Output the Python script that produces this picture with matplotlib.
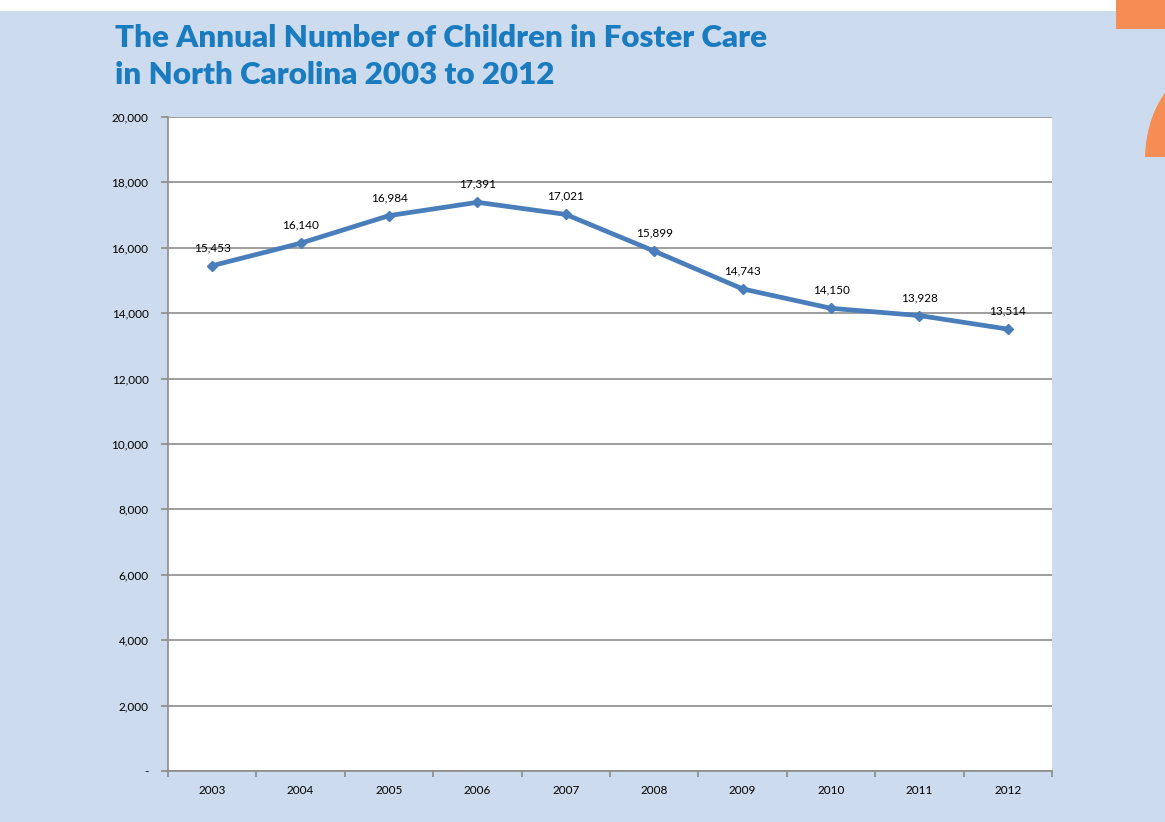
import matplotlib.pyplot as plt
import matplotlib.patches as mpatches
import numpy as np

years = ["2003", "2004", "2005", "2006", "2007", "2008", "2009", "2010", "2011", "2012"]
children = [15453, 16140, 16984, 17391, 17021, 15899, 14743, 14150, 13928, 13514]
ytick_vals = [0, 2000, 4000, 6000, 8000, 10000, 12000, 14000, 16000, 18000, 20000]
ytick_labels = ["-", "2,000", "4,000", "6,000", "8,000", "10,000", "12,000",
                "14,000", "16,000", "18,000", "20,000"]

bg = "#ccdbed"
fig = plt.figure(figsize=(11.65, 8.22), dpi=100, facecolor=bg)

# white strip at top and orange decoration top right
fig.patches.append(mpatches.Rectangle((0, 1 - 11/822), 1, 11/822, transform=fig.transFigure,
                                      facecolor="white", edgecolor="none"))
fig.patches.append(mpatches.Rectangle((1116/1165, 1 - 29/822), 1, 29/822, transform=fig.transFigure,
                                      facecolor="#f58d55", edgecolor="none"))
fig.patches.append(mpatches.Ellipse((1205/1165, 1 - 160/822), 120/1165, 180/822,
                                    transform=fig.transFigure, facecolor="#f58d55",
                                    edgecolor="none"))
fig.patches.append(mpatches.Rectangle((1140/1165, 0), 1, 1 - 157/822, transform=fig.transFigure,
                                      facecolor=bg, edgecolor="none"))

title_font = ["Lato", "DejaVu Sans"]
t1 = fig.text(115/1165, 1 - 38/822, "The Annual Number of Children in Foster Care",
              fontsize=21, fontweight="heavy", color="#1a7cbf", family=title_font, va="center")
t2 = fig.text(115/1165, 1 - 75/822, "in North Carolina 2003 to 2012",
              fontsize=21, fontweight="heavy", color="#1a7cbf", family=title_font, va="center")
# fit title to the reference width
r = fig.canvas.get_renderer()
w = t1.get_window_extent(r).width
scale = 647 / w
t1.set_fontsize(21 * scale)
t2.set_fontsize(21 * scale)

ax = fig.add_axes([168/1165, 1 - 771/822, 884/1165, 654/822])
ax.set_facecolor("white")
x = np.arange(len(years))
ax.plot(x, children, color="#4a7ebb", linewidth=3.4, marker="D", markersize=5, zorder=3)

lab_font = ["Lato", "DejaVu Sans"]
for xi, v in zip(x, children):
    ax.annotate(f"{v:,}", (xi, v), xytext=(0, 9), textcoords="offset points",
                ha="center", va="bottom", fontsize=8.5, family=lab_font)

ax.set_xlim(-0.5, len(years) - 0.5)
ax.set_ylim(0, 20000)
ax.set_yticks(ytick_vals)
ax.set_yticklabels(ytick_labels, fontsize=8.5, family=lab_font)
ax.set_xticks(x)
ax.set_xticklabels(years, fontsize=8.5, family=lab_font)
ax.set_xticks(np.arange(-0.5, len(years), 1), minor=True)
ax.tick_params(axis="x", which="major", length=0, pad=10)
ax.tick_params(axis="x", which="minor", length=4, width=1.2, color="#8c8c8c", direction="out")
ax.tick_params(axis="y", length=5, width=1.2, color="#8c8c8c", direction="out", pad=9)
ax.grid(axis="y", color="#8c8c8c", linewidth=1.2)
ax.set_axisbelow(True)
for s in ["top", "right"]:
    ax.spines[s].set_visible(False)
for s in ["left", "bottom"]:
    ax.spines[s].set_color("#8c8c8c")
    ax.spines[s].set_linewidth(1.2)

fig.savefig("out.png", dpi=100, facecolor=bg)
